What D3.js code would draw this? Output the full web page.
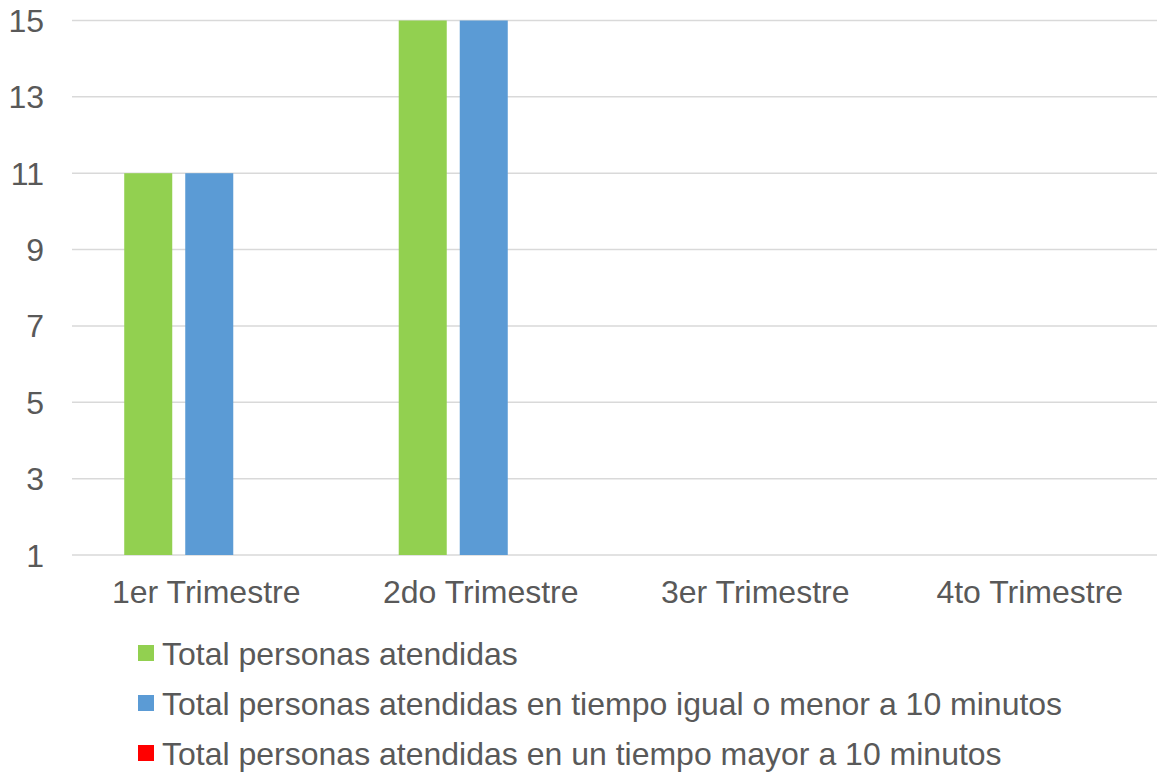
<!DOCTYPE html>
<html>
<head>
<meta charset="utf-8">
<script src="https://cdn.jsdelivr.net/npm/d3@7"></script>
<style>
  body { margin: 0; background: #fff; }
  text { font-family: "Liberation Sans", Arial, sans-serif; fill: #595959; }
</style>
</head>
<body>
<div id="chart"></div>
<script>
// chart data
const categories = ["1er Trimestre", "2do Trimestre", "3er Trimestre", "4to Trimestre"];
const seriesNames = [
  "Total personas atendidas",
  "Total personas atendidas en tiempo igual o menor a 10 minutos",
  "Total personas atendidas en un tiempo mayor a 10 minutos"
];
const totalAtendidas = [11, 15, 0, 0];
const menorIgual10 = [11, 15, 0, 0];
const mayor10 = [0, 0, 0, 0];
const seriesColors = ["#92D050", "#5B9BD5", "#FF0000"];
const yTicks = [1, 3, 5, 7, 9, 11, 13, 15];

const seriesValues = [totalAtendidas, menorIgual10, mayor10];

const width = 1157, height = 774;

const svg = d3.select("#chart").append("svg")
  .attr("width", width)
  .attr("height", height);

const x0 = d3.scaleBand()
  .domain(categories)
  .range([72, 1170]);

const x1 = d3.scaleBand()
  .domain(d3.range(seriesNames.length))
  .range([0, x0.bandwidth()])
  .paddingInner(0.213)
  .paddingOuter(0.856);

const y = d3.scaleLinear()
  .domain([1, 15])
  .range([555, 20.5]);

// gridlines
svg.append("g")
  .selectAll("line")
  .data(yTicks)
  .join("line")
  .attr("x1", 72)
  .attr("x2", width)
  .attr("y1", d => y(d))
  .attr("y2", d => y(d))
  .attr("stroke", "#d9d9d9")
  .attr("stroke-width", 1.5);

// y tick labels
svg.append("g")
  .selectAll("text")
  .data(yTicks)
  .join("text")
  .attr("x", 44)
  .attr("y", d => y(d))
  .attr("dy", "0.36em")
  .attr("text-anchor", "end")
  .style("font-size", "32px")
  .text(d => d);

// bars
const groups = svg.append("g")
  .selectAll("g")
  .data(categories)
  .join("g")
  .attr("transform", d => `translate(${x0(d)},0)`);

groups.selectAll("rect")
  .data((c, ci) => seriesValues.map((vals, si) => ({ si, v: vals[ci] })))
  .join("rect")
  .attr("x", d => x1(d.si))
  .attr("width", x1.bandwidth())
  .attr("y", d => y(Math.max(1, d.v)))
  .attr("height", d => Math.max(0, y(1) - y(Math.max(1, d.v))))
  .attr("fill", d => seriesColors[d.si]);

// category labels
svg.append("g")
  .selectAll("text")
  .data(categories)
  .join("text")
  .attr("x", d => x0(d) + x0.bandwidth() / 2 - 3)
  .attr("y", 603)
  .attr("text-anchor", "middle")
  .style("font-size", "32px")
  .text(d => d);

// legend
const legend = svg.append("g")
  .selectAll("g")
  .data(seriesNames)
  .join("g")
  .attr("transform", (d, i) => `translate(138,${653 + i * 50})`);

legend.append("rect")
  .attr("x", 0)
  .attr("y", -8)
  .attr("width", 16)
  .attr("height", 16)
  .attr("fill", (d, i) => seriesColors[i]);

legend.append("text")
  .attr("x", 24)
  .attr("y", 0)
  .attr("dy", "0.36em")
  .style("font-size", "32px")
  .text(d => d);
</script>
</body>
</html>
